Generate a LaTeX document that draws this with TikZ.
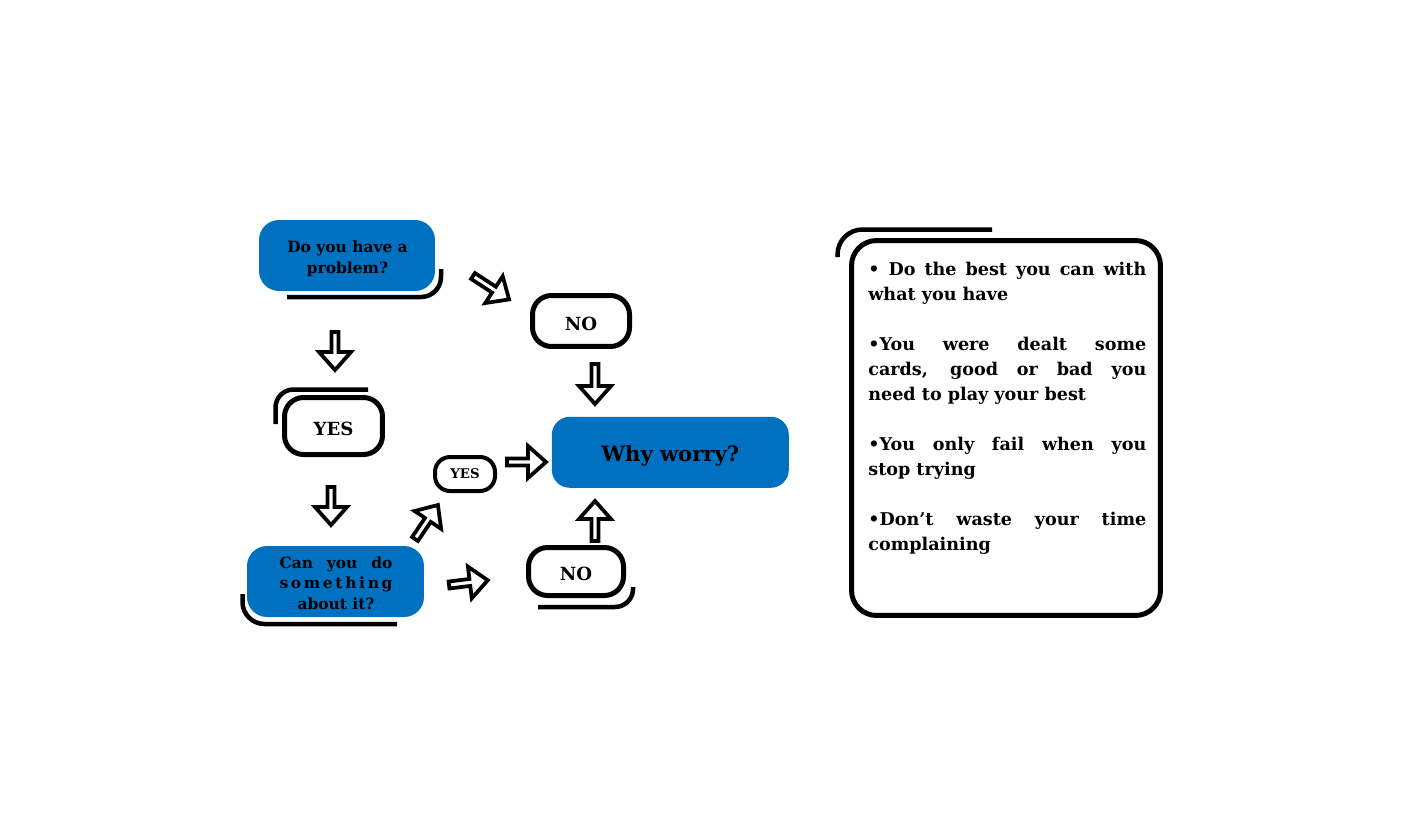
\documentclass[tikz,border=0pt]{standalone}
\usepackage{fontspec}
\setmainfont{DejaVu Serif}
\setlength{\parindent}{0pt}
\definecolor{myblue}{RGB}{0,112,192}
\tikzset{
  bluebox/.style={fill=myblue, rounded corners=0.4cm, inner sep=0pt},
  whitebox/.style={draw, line width=0.1cm, fill=white, rounded corners=0.38cm, inner sep=0pt, align=center},
  boxtext/.style={inner sep=0pt, align=center, anchor=base},
  shadowline/.style={line width=0.09cm, line cap=butt},
  arrowline/.style={draw, fill=white, line width=0.075cm, miter limit=10},
  barrow/.pic={\path[arrowline] (0,-3.5) -- ({#1-18},-3.5) -- ({#1-18},-16) -- (#1,0) -- ({#1-18},16) -- ({#1-18},3.5) -- (0,3.5) -- cycle;},
  smallfont/.style={font=\fontsize{8.8pt}{11.6pt}\selectfont\bfseries},
  midfont/.style={font=\fontsize{10.3pt}{12pt}\selectfont\bfseries, text height=0.36cm, text depth=0pt},
}
\begin{document}
\begin{tikzpicture}[x=0.02cm,y=-0.02cm]
\useasboundingbox (0,0) rectangle (1405,838);

% left column
\draw[shadowline, rounded corners=0.4cm] (287,297) -| (441,269);
\node[bluebox, minimum width=3.52cm, minimum height=1.42cm] (q1) at (347,255.5) {};
\node[boxtext, smallfont] (q1t) at (347.5,273) {Do you have a\\problem?};

\pic[rotate=-90] (a1) at (335,332) {barrow=38};

\draw[shadowline, rounded corners=0.36cm] (275.5,424) |- (368,389.5);
\node[whitebox, midfont, minimum width=1.96cm, minimum height=1.14cm] (yes1) at (333.5,426) {YES};

\pic[rotate=-90] (a2) at (331,487) {barrow=38};

\draw[shadowline, rounded corners=0.44cm] (242.5,594) |- (397,624);
\node[bluebox, minimum width=3.54cm, minimum height=1.42cm] (q2) at (335.5,581.5) {};
\node[boxtext, smallfont] (q2t) at (336,609)
  {\makebox[2.26cm][s]{Can you do}\\\makebox[2.26cm]{s\hfill o\hfill m\hfill e\hfill t\hfill h\hfill i\hfill n\hfill g}\\about it?};

% middle
\pic[rotate=-33] (a3) at (473,276) {barrow=43};
\node[whitebox, midfont, minimum width=1.94cm, minimum height=1.02cm] (no1) at (581,321) {NO};
\pic[rotate=-90] (a8) at (595,364) {barrow=40};

\pic[rotate=56] (a4) at (415,539) {barrow=41};
\node[whitebox, line width=0.08cm, rounded corners=0.3cm, font=\fontsize{7.6pt}{9pt}\selectfont\bfseries, minimum width=1.2cm, minimum height=0.68cm] (yes2) at (465,474) {YES};
\pic (a5) at (507,462) {barrow=39};

\node[bluebox, rounded corners=0.36cm, minimum width=4.74cm, minimum height=1.42cm] (why) at (670.3,452.3) {};
\node[boxtext, font=\fontsize{12pt}{14pt}\selectfont\bfseries] (whyt) at (670.3,461.7) {Why worry?};

\pic[rotate=7] (a6) at (449,585) {barrow=39};
\draw[shadowline, rounded corners=0.36cm] (538,607) -| (633,587);
\node[whitebox, midfont, minimum width=1.9cm, minimum height=0.96cm] (no2) at (576,571.5) {NO};
\pic[rotate=90] (a7) at (595,541) {barrow=40};

% right panel
\draw[shadowline, rounded corners=0.5cm] (837.5,257) |- (992,229.5);
\node[whitebox, rounded corners=0.5cm, minimum width=6.18cm, minimum height=7.5cm] (panel) at (1006,428) {};
\node[anchor=north west, inner sep=0pt, text width=5.56cm, align=justify,
      font=\fontsize{10pt}{14.2pt}\selectfont\bfseries] (tips) at (868,262)
  {• Do the best you can with\linebreak what you have\par\vspace{14.2pt}
   •You were dealt some\linebreak cards, good or bad you\linebreak need to play your best\par\vspace{14.2pt}
   •You only fail when you\linebreak stop trying\par\vspace{14.2pt}
   •Don’t waste your time\linebreak complaining\par};
\end{tikzpicture}
\end{document}
